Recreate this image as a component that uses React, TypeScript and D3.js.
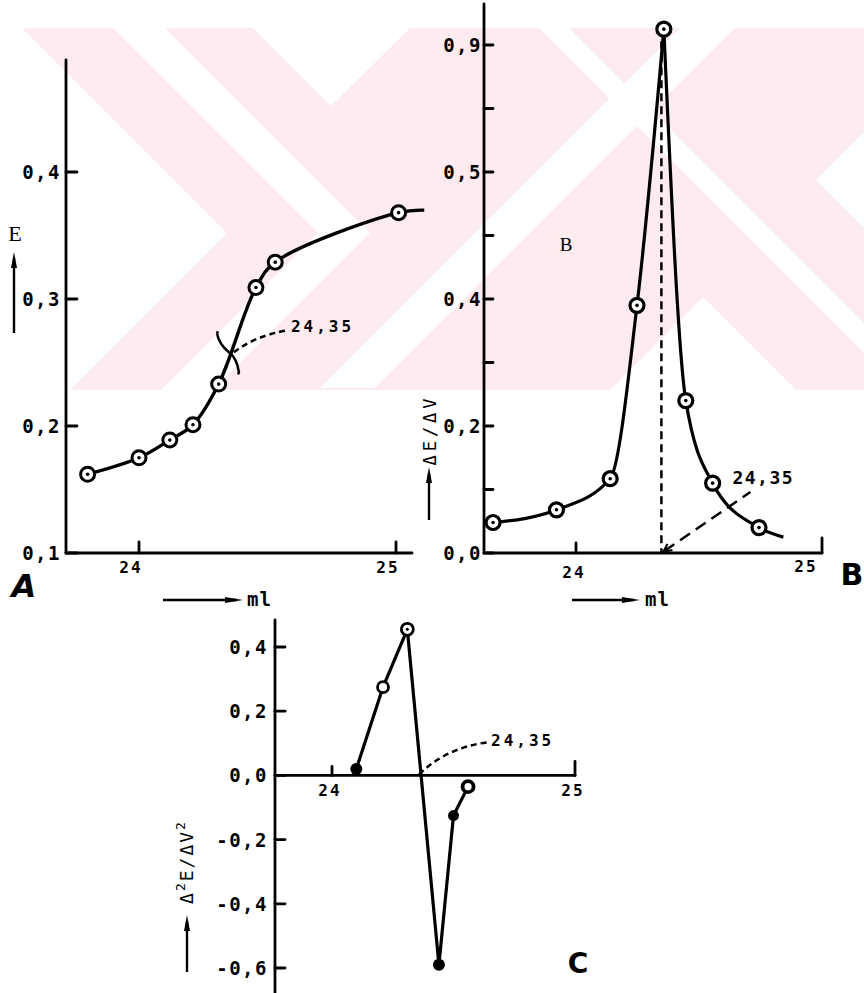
import React from "react";
import * as d3 from "d3";

// ---------- data ----------
const volA = [23.8, 24.0, 24.12, 24.21, 24.31, 24.455, 24.53, 25.01];
const potA = [0.162, 0.175, 0.189, 0.201, 0.233, 0.309, 0.329, 0.368];
const tailVolA = 25.11;
const tailPotA = 0.37;
const crossPotA = 0.258;
const yTicksA = [0.1, 0.2, 0.3, 0.4];
const yLabelsA = ["0,1", "0,2", "0,3", "0,4"];

const volB = [23.66, 23.92, 24.14, 24.25, 24.36, 24.45, 24.56, 24.75];
const dEB = [0.048, 0.068, 0.117, 0.39, 0.825, 0.24, 0.11, 0.04];
const tailVolB = 24.85;
const tailDEB = 0.025;
const yTicksB = [0, 0.2, 0.4, 0.6, 0.8];
const yLabelsB = ["0,0", "0,2", "0,4", "0,5", "0,9"];
const yMinorB = [0.1, 0.3, 0.5, 0.7];

const volC = [24.1, 24.21, 24.31, 24.44, 24.5, 24.56];
const d2EC = [0.02, 0.275, 0.455, -0.59, -0.125, -0.035];
const markC = ["filled", "open", "dot", "filled", "filled", "ring"];
const yTicksC = [0.4, 0.2, 0, -0.2, -0.4, -0.6];
const yLabelsC = ["0,4", "0,2", "0,0", "-0,2", "-0,4", "-0,6"];

const xTicks = [24, 25];
const xLabels = ["24", "25"];
const endPointLabel = "24,35";
const endPoint = 24.35;

// ---------- watermark (decoration) ----------
const PINK = "#fdebef";
const whiteShapes = [
  "0,28 22,28 227,233 70,390 0,390",
  "113,28 165,28 370,233 213,390 161,390 318,233",
  "253,28 410,28 331,106",
  "539,28 569,28 864,323 864,353",
  "680,28 735,28 375,388 320,388",
  "864,132 816,180 864,228",
  "610,390 703,297 796,390",
];

const MONO = "'DejaVu Sans Mono', monospace";
const SERIF = "'Liberation Serif', serif";

function ArrowUp({ x, top, bottom }: { x: number; top: number; bottom: number }) {
  return (
    <g>
      <line x1={x} x2={x} y1={bottom} y2={top + 6} stroke="#000" strokeWidth={2.4} />
      <polygon points={`${x - 3},${top + 16} ${x},${top} ${x + 3},${top + 16}`} fill="#000" />
    </g>
  );
}

function ArrowRight({ x1, x2, y }: { x1: number; x2: number; y: number }) {
  return (
    <g>
      <line x1={x1} x2={x2 - 6} y1={y} y2={y} stroke="#000" strokeWidth={2.4} />
      <polygon points={`${x2 - 18},${y - 3} ${x2},${y} ${x2 - 18},${y + 3}`} fill="#000" />
    </g>
  );
}

export default function App() {
  const xA = d3.scaleLinear().domain([24, 25]).range([139, 396]);
  const yA = d3.scaleLinear().domain([0.1, 0.4]).range([553, 172]);
  const xB = d3.scaleLinear().domain([24, 25]).range([576, 820]);
  const yB = d3.scaleLinear().domain([0, 0.8]).range([553, 45]);
  const xC = d3.scaleLinear().domain([24, 25]).range([332, 575]);
  const yC = d3.scaleLinear().domain([-0.6, 0.4]).range([968, 647]);

  const ptsA: [number, number][] = volA.map((v, i) => [xA(v), yA(potA[i])]);
  const curveA = d3.line().curve(d3.curveCatmullRom.alpha(0.5))([
    ...ptsA,
    [xA(tailVolA), yA(tailPotA)],
  ]);

  const ptsB: [number, number][] = volB.map((v, i) => [xB(v), yB(dEB[i])]);
  const lineMono = d3.line().curve(d3.curveMonotoneX);
  const curveBL = lineMono(ptsB.slice(0, 5));
  const curveBR = lineMono([...ptsB.slice(4), [xB(tailVolB), yB(tailDEB)]]);

  const ptsC: [number, number][] = volC.map((v, i) => [xC(v), yC(d2EC[i])]);
  const lineC = d3.line()(ptsC);

  const cxA = xA(endPoint);
  const cyA = yA(crossPotA);
  const exB = xB(endPoint);
  const exC = xC(endPoint);
  const zeroC = yC(0);

  const tickFont = { fontSize: 19, letterSpacing: 1.5, fontWeight: 600 as const };

  return (
    <svg
      width={864}
      height={993}
      style={{ position: "absolute", left: 0, top: 0, background: "#fff" }}
      fontFamily={MONO}
    >
      <rect x={0} y={0} width={864} height={993} fill="#fff" />
      <rect x={0} y={28} width={864} height={362} fill={PINK} />
      {whiteShapes.map((p, i) => (
        <polygon key={i} points={p} fill="#fff" />
      ))}

      {/* ================= Panel A ================= */}
      <g stroke="#000" strokeWidth={2.8} fill="none" strokeLinecap="round">
        <line x1={66} x2={66} y1={60} y2={553} />
        <line x1={66} x2={412} y1={553} y2={553} />
        {yTicksA.map((t) => (
          <line key={t} x1={66} x2={77} y1={yA(t)} y2={yA(t)} />
        ))}
        {xTicks.map((t) => (
          <line key={t} x1={xA(t)} x2={xA(t)} y1={553} y2={542} />
        ))}
      </g>
      {yTicksA.map((t, i) => (
        <text key={t} x={61} y={yA(t) + 7} textAnchor="end" {...tickFont}>
          {yLabelsA[i]}
        </text>
      ))}
      {xTicks.map((t, i) => (
        <text key={t} x={xA(t) - 8} y={573} textAnchor="middle" fontSize={16} letterSpacing={2} fontWeight={600}>
          {xLabels[i]}
        </text>
      ))}
      <path d={curveA || ""} fill="none" stroke="#000" strokeWidth={3.4} />
      {ptsA.map(([x, y], i) => (
        <g key={i}>
          <circle cx={x} cy={y} r={7} fill="#fff" stroke="#000" strokeWidth={3} />
          <circle cx={x} cy={y} r={1.8} fill="#000" />
        </g>
      ))}
      <path
        d={`M${cxA - 12},${cyA - 19} l1,-2 M${cxA - 12},${cyA - 19} Q${cxA - 10},${cyA - 8} ${cxA},${cyA} Q${cxA + 8},${cyA + 6} ${cxA + 10},${cyA + 20} l-1,2`}
        fill="none"
        stroke="#000"
        strokeWidth={2.5}
      />
      <path
        d={`M${cxA + 5},${cyA} Q${cxA + 25},${cyA - 16} ${cxA + 58},${cyA - 22}`}
        fill="none"
        stroke="#000"
        strokeWidth={2.5}
        strokeDasharray="6 4"
      />
      <text x={cxA + 62} y={cyA - 20} fontSize={16} letterSpacing={3} fontWeight={600}>
        {endPointLabel}
      </text>
      <text x={15} y={241} textAnchor="middle" fontSize={22} fontFamily={SERIF}>
        E
      </text>
      <ArrowUp x={14} top={252} bottom={333} />
      <ArrowRight x1={163} x2={243} y={600} />
      <text x={247} y={606} fontSize={19} letterSpacing={1} fontWeight={600}>
        ml
      </text>
      <text x={24} y={597} textAnchor="middle" fontSize={32} fontWeight="bold" fontStyle="italic" fontFamily="'DejaVu Sans', sans-serif">
        A
      </text>

      {/* ================= Panel B ================= */}
      <g stroke="#000" strokeWidth={2.8} fill="none" strokeLinecap="round">
        <line x1={484} x2={484} y1={4} y2={553} />
        <line x1={484} x2={822} y1={553} y2={553} />
        <line x1={822} x2={822} y1={553} y2={538} />
        {[...yTicksB, ...yMinorB].map((t) => (
          <line key={t} x1={484} x2={493} y1={yB(t)} y2={yB(t)} />
        ))}
        <line x1={xB(24)} x2={xB(24)} y1={553} y2={543} />
      </g>
      {yTicksB.map((t, i) => (
        <text key={t} x={482} y={yB(t) + 7} textAnchor="end" {...tickFont}>
          {yLabelsB[i]}
        </text>
      ))}
      {xTicks.map((t, i) => (
        <text key={t} x={xB(t) - (i === 0 ? 2 : 14)} y={i === 0 ? 578 : 572} textAnchor="middle" fontSize={16} letterSpacing={2} fontWeight={600}>
          {xLabels[i]}
        </text>
      ))}
      <line x1={exB} x2={exB} y1={yB(dEB[4]) + 12} y2={553} stroke="#000" strokeWidth={2.5} strokeDasharray="8 5" />
      <line x1={exB + 3} x2={exB + 89} y1={551} y2={492} stroke="#000" strokeWidth={2.5} strokeDasharray="12 7" />
      <path d={`M${exB + 2},${552} l9,-2 M${exB + 2},${552} l4,-8`} stroke="#000" strokeWidth={2.2} fill="none" />
      <text x={exB + 71} y={484} fontSize={18} letterSpacing={1.5} fontWeight={600}>
        {endPointLabel}
      </text>
      <path d={curveBL || ""} fill="none" stroke="#000" strokeWidth={3.2} />
      <path d={curveBR || ""} fill="none" stroke="#000" strokeWidth={3.2} />
      {ptsB.map(([x, y], i) => (
        <g key={i}>
          <circle cx={x} cy={y} r={7} fill="#fff" stroke="#000" strokeWidth={3.2} />
          <circle cx={x} cy={y} r={1.8} fill="#000" />
        </g>
      ))}
      <text x={566} y={251} textAnchor="middle" fontSize={19} fontFamily={SERIF}>
        B
      </text>
      <text transform="translate(436,430) rotate(-90)" textAnchor="middle" fontSize={17} letterSpacing={4}>
        ΔE/ΔV
      </text>
      <ArrowUp x={429} top={467} bottom={520} />
      <ArrowRight x1={572} x2={640} y={600} />
      <text x={645} y={606} fontSize={19} letterSpacing={1} fontWeight={600}>
        ml
      </text>
      <text x={852} y={585} textAnchor="middle" fontSize={30} fontWeight="bold" fontFamily="'DejaVu Sans', sans-serif">
        B
      </text>

      {/* ================= Panel C ================= */}
      <g stroke="#000" strokeWidth={2.8} fill="none" strokeLinecap="round">
        <line x1={275} x2={275} y1={620} y2={993} />
        <line x1={275} x2={575} y1={zeroC} y2={zeroC} />
        <line x1={575} x2={575} y1={zeroC} y2={zeroC - 14} />
        <line x1={xC(24)} x2={xC(24)} y1={zeroC} y2={zeroC - 9} />
        {yTicksC.map((t) => (
          <line key={t} x1={275} x2={285} y1={yC(t)} y2={yC(t)} />
        ))}
      </g>
      {yTicksC.map((t, i) => (
        <text key={t} x={268} y={yC(t) + 7} textAnchor="end" {...tickFont}>
          {yLabelsC[i]}
        </text>
      ))}
      {xTicks.map((t, i) => (
        <text key={t} x={xC(t) - 2} y={796} textAnchor="middle" fontSize={16} letterSpacing={2} fontWeight={600}>
          {xLabels[i]}
        </text>
      ))}
      <path d={lineC || ""} fill="none" stroke="#000" strokeWidth={3.2} />
      {ptsC.map(([x, y], i) => {
        const m = markC[i];
        if (m === "filled") return <circle key={i} cx={x} cy={y} r={i === 4 ? 5.5 : 6} fill="#000" />;
        if (m === "open") return <circle key={i} cx={x} cy={y} r={5.5} fill="#fff" stroke="#000" strokeWidth={2.8} />;
        if (m === "ring") return <circle key={i} cx={x} cy={y} r={5.5} fill="#fff" stroke="#000" strokeWidth={3.8} />;
        return (
          <g key={i}>
            <circle cx={x} cy={y} r={6} fill="#fff" stroke="#000" strokeWidth={2.8} />
            <circle cx={x} cy={y} r={1.5} fill="#000" />
          </g>
        );
      })}
      <path
        d={`M${exC + 2},${zeroC - 1} Q${exC + 30},${zeroC - 28} ${exC + 70},${zeroC - 33}`}
        fill="none"
        stroke="#000"
        strokeWidth={2.5}
        strokeDasharray="6 4"
      />
      <text x={exC + 74} y={zeroC - 29} fontSize={16} letterSpacing={3} fontWeight={600}>
        {endPointLabel}
      </text>
      <text transform="translate(193,862) rotate(-90)" textAnchor="middle" fontSize={18} letterSpacing={2}>
        Δ<tspan fontSize={13} dy={-8}>2</tspan>
        <tspan dy={8}>E/ΔV</tspan>
        <tspan fontSize={13} dy={-8}>2</tspan>
      </text>
      <ArrowUp x={187} top={915} bottom={972} />
      <text x={578} y={973} textAnchor="middle" fontSize={28} fontWeight="bold" fontFamily="'DejaVu Sans', sans-serif">
        C
      </text>
    </svg>
  );
}
